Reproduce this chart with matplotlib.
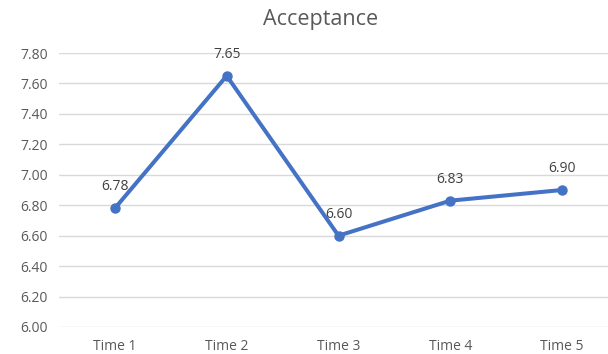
import matplotlib.pyplot as plt

times = ["Time 1", "Time 2", "Time 3", "Time 4", "Time 5"]
acceptance = [6.78, 7.65, 6.60, 6.83, 6.90]
y_ticks = [6.00, 6.20, 6.40, 6.60, 6.80, 7.00, 7.20, 7.40, 7.60, 7.80]

plt.rcParams["font.family"] = ["Open Sans", "DejaVu Sans"]
text_color = "#595959"
label_color = "#404040"
line_color = "#4472C4"

fig = plt.figure(figsize=(6.08, 3.54), dpi=100)
ax = fig.add_axes([59 / 608, 27 / 354, 559 / 608, 274 / 354])

x = list(range(len(times)))
ax.plot(x, acceptance, color=line_color, linewidth=2.9, marker="o",
        markersize=6.5, solid_capstyle="round", zorder=3)
for xi, v in zip(x, acceptance):
    ax.annotate(f"{v:.2f}", (xi, v), xytext=(0, 10), textcoords="offset points",
                ha="center", va="bottom", fontsize=10, color=label_color)

ax.set_xlim(-0.5, len(times) - 0.5)
ax.set_ylim(y_ticks[0], y_ticks[-1])
ax.set_xticks(x)
ax.set_xticklabels(times)
ax.set_yticks(y_ticks)
ax.set_yticklabels([f"{t:.2f}" for t in y_ticks])
ax.tick_params(length=0, labelsize=10, colors=text_color)
ax.tick_params(axis="x", pad=9)
ax.tick_params(axis="y", pad=8)
ax.grid(axis="y", color="#D9D9D9", linewidth=1)
ax.set_axisbelow(True)
for s in ax.spines.values():
    s.set_visible(False)

fig.text(321 / 608, 1 - 20 / 354, "Acceptance", ha="center", va="center",
         fontsize=15.5, color=text_color)

fig.savefig("out.png", dpi=100)
